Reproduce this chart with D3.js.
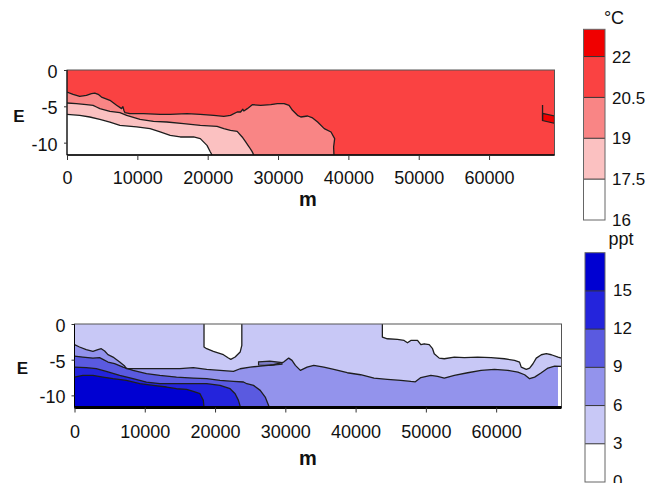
<!DOCTYPE html>
<html><head><meta charset="utf-8">
<script src="https://cdn.jsdelivr.net/npm/d3@7"></script>
<style>
body{margin:0;background:#fff}
svg{display:block}
text{font-family:"Liberation Sans",Arial,Helvetica,sans-serif;fill:#111}
</style>
</head><body>
<svg id="c" width="660" height="483"></svg>
<script>
// ---------------- data ----------------
const xTicks = [0, 10000, 20000, 30000, 40000, 50000, 60000];
const depthTicks = [0, -5, -10];
const xMax = 69300;
const depthMin = -11.7;

const tempLevels = [16, 17.5, 19, 20.5, 22, 23];
const tempLabels = [16, 17.5, 19, 20.5, 22];
const tempColors = ["#ffffff", "#fbc1c1", "#f98585", "#fa4242", "#f00000"];
const tempUnit = "°C";

const salLevels = [0, 3, 6, 9, 12, 15, 18];
const salLabels = [0, 3, 6, 9, 12, 15];
const salColors = ["#ffffff", "#c8c8f6", "#9393ec", "#5a5ae0", "#2424dc", "#0000d2"];
const salUnit = "ppt";

// temperature isolines [distance m, elevation]
const temp205 = [[0,-3.03],[860,-3.35],[1810,-3.62],[2760,-3.49],[3480,-3.26],[3950,-3.17],[4430,-3.35],[4900,-3.72],[6100,-4.17],[7050,-4.86],[7760,-5.32],[7950,-5.05],[8100,-5.6],[8240,-5.87],[8950,-6.01],[10860,-6.01],[13240,-6.1],[14670,-6.1],[17050,-6.01],[18950,-6.1],[20860,-6.24],[22290,-6.38],[23240,-6.24],[24190,-5.78],[24670,-5.78],[25000,-5.4],[25140,-5.65],[25630,-5.32],[26340,-4.77],[27530,-4.86],[28960,-4.77],[29910,-4.63],[30860,-4.63],[31570,-4.86],[32060,-5.55],[32770,-6.24],[33240,-6.47],[34200,-6.33],[34910,-6.6],[35630,-7.16],[36570,-8.07],[37530,-8.53],[38050,-9.45],[37900,-10.6],[37950,-11.7]];
const temp19 = [[0,-4.54],[1330,-4.63],[2760,-4.77],[3710,-4.86],[4190,-5.09],[4670,-5.32],[6100,-5.69],[7520,-5.87],[8480,-6.24],[10380,-6.79],[12290,-7.06],[14190,-7.16],[16570,-7.39],[18950,-7.61],[21330,-7.75],[22290,-8.07],[23240,-8.3],[24190,-8.44],[24900,-9.22],[25400,-9.9],[25900,-10.6],[26300,-11.2],[26550,-11.7]];
const temp175 = [[0,-6.1],[1810,-6.24],[3240,-6.47],[4670,-6.79],[6100,-7.16],[7520,-7.61],[9900,-7.84],[11810,-8.07],[13240,-8.53],[14670,-8.99],[16100,-9.22],[18000,-9.22],[18950,-9.45],[19900,-10.37],[20380,-11.28],[20620,-11.7]];
const temp22 = [[67600,-5.96],[69300,-6.33],[69300,-7.33],[67600,-6.97]];
const temp22Edge = [[67600,-4.81],[67600,-6.97]];

// salinity isolines
const sal6 = [[0,-2.9],[714,-3.22],[1670,-3.6],[2620,-3.83],[3330,-3.6],[3810,-3.46],[4290,-3.79],[4760,-4.3],[5480,-4.63],[6430,-5.33],[7140,-5.89],[7380,-6.26],[8810,-6.26],[12140,-6.26],[15000,-6.26],[16900,-6.12],[18810,-6.36],[20710,-6.5],[22620,-6.64],[23570,-6.27],[25000,-6.04],[26430,-5.9],[28330,-5.71],[29760,-5.34],[30480,-4.78],[30950,-5.1],[31430,-5.8],[32140,-6.5],[33100,-6.04],[34050,-5.8],[35480,-6.04],[36900,-6.36],[38810,-6.83],[40710,-7.11],[42620,-7.58],[44520,-7.76],[46430,-7.9],[47860,-8.05],[48500,-8.1],[49290,-7.5],[50710,-7.2],[51670,-7.34],[52620,-7.58],[54050,-7.2],[55950,-6.83],[57860,-6.5],[59760,-6.36],[61670,-6.5],[63100,-6.74],[64050,-7.11],[64760,-7.67],[65480,-7.44],[66430,-6.83],[67380,-6.17],[68330,-5.9],[69300,-5.94]];
const sal9 = [[0,-4.49],[1190,-4.63],[2620,-4.77],[3570,-4.72],[4050,-4.95],[4760,-5.33],[5710,-5.56],[6900,-6.03],[8330,-6.5],[10240,-6.96],[12140,-7.2],[14520,-7.43],[16900,-7.57],[18810,-7.66],[20710,-7.9],[22620,-8.04],[24050,-8.13],[24520,-8.37],[25480,-8.6],[26430,-9.3],[27140,-10.24],[27620,-11.41],[27700,-11.7]];
const sal12 = [[0,-6.03],[1670,-6.12],[3100,-6.26],[4520,-6.64],[6430,-7.2],[8330,-7.66],[10240,-8.13],[12140,-8.36],[14520,-8.36],[16900,-8.36],[18810,-8.36],[20710,-8.6],[22140,-9.07],[22860,-9.77],[23330,-10.7],[23570,-11.5],[23600,-11.7]];
const sal15 = [[0,-7.43],[1190,-7.2],[2620,-7.2],[4050,-7.43],[5480,-7.66],[7380,-7.9],[9290,-8.36],[11190,-8.6],[13100,-8.83],[14520,-9.07],[15950,-9.16],[16900,-9.44],[17860,-9.77],[18330,-10.7],[18430,-11.7]];
const sal3Left = [[18430,0],[18430,-3.22],[18810,-3.46],[19760,-3.83],[21190,-4.3],[21900,-4.77],[22240,-4.95],[22860,-4.63],[23570,-3.93],[23810,-2.99],[23810,0]];
const sal3Right = [[43810,0],[43810,-1.83],[44520,-2.07],[45950,-2.16],[46900,-2.3],[47380,-2.63],[47860,-2.3],[48810,-2.3],[49290,-2.9],[49760,-2.77],[50480,-2.9],[50950,-3.46],[51190,-4.16],[51900,-4.78],[52620,-4.87],[54050,-4.63],[55480,-4.72],[57380,-4.63],[59290,-4.72],[61190,-4.87],[62620,-5.1],[63330,-5.34],[63570,-6.04],[64290,-6.36],[64760,-6.17],[65240,-5.57],[65710,-4.78],[66430,-4.31],[67140,-4.16],[67860,-4.31],[68810,-4.63],[69300,-4.78]];
const salLens = [[26190,-5.3],[27800,-5.2],[29520,-5.4],[29520,-5.65],[27800,-5.8],[26190,-5.75]];
const salGap = [[68800,-6.0],[69300,-5.94],[69300,-11.7],[68800,-11.7]];

// ---------------- drawing ----------------
const svg = d3.select("#c");
const FONT = '"Liberation Sans",Arial,sans-serif';

function panel(cfg) {
  const x = d3.scaleLinear().domain([0, xMax]).range([cfg.left, cfg.right]);
  const y = d3.scaleLinear().domain([depthMin, 0]).range([cfg.bottom, cfg.top]);
  const line = d3.line().x(d => x(d[0])).y(d => y(d[1]));
  const g = svg.append("g");
  const clipId = "clip" + cfg.id;
  svg.append("clipPath").attr("id", clipId).append("rect")
    .attr("x", cfg.left).attr("y", cfg.top)
    .attr("width", cfg.right - cfg.left).attr("height", cfg.bottom - cfg.top);
  const inner = g.append("g").attr("clip-path", `url(#${clipId})`);
  inner.append("rect").attr("x", cfg.left).attr("y", cfg.top)
    .attr("width", cfg.right - cfg.left).attr("height", cfg.bottom - cfg.top)
    .attr("fill", cfg.background);
  cfg.fills.forEach(f => {
    inner.append("path").attr("d", line(f.pts) + "Z").attr("fill", f.color)
      .attr("stroke", f.stroke ? "#222" : "none").attr("stroke-width", 1.2);
  });
  cfg.lines.forEach(l => {
    inner.append("path").attr("d", line(l)).attr("fill", "none")
      .attr("stroke", "#1e1e1e").attr("stroke-width", 1.3).attr("stroke-linejoin", "round");
  });
  // frame
  g.append("rect").attr("x", cfg.left).attr("y", cfg.top)
    .attr("width", cfg.right - cfg.left).attr("height", cfg.bottom - cfg.top)
    .attr("fill", "none").attr("stroke", "#555").attr("stroke-width", 1);
  // axes
  const ax = g.append("g").attr("transform", `translate(0,${cfg.bottom})`)
    .call(d3.axisBottom(x).tickValues(xTicks).tickFormat(d => String(d)).tickSize(5).tickPadding(cfg.xPad));
  ax.select(".domain").attr("stroke", "#000").attr("stroke-width", cfg.axisWidth).attr("d", `M${cfg.left},0H${cfg.right}`);
  ax.selectAll(".tick line").attr("stroke", "#333");
  ax.selectAll("text").attr("font-size", 18).attr("font-family", FONT).attr("fill", "#111");
  const ay = g.append("g").attr("transform", `translate(${cfg.left},0)`)
    .call(d3.axisLeft(y).tickValues(depthTicks).tickFormat(d => String(d)).tickSize(3).tickPadding(cfg.yPad));
  ay.select(".domain").attr("stroke", "#000").attr("stroke-width", 1).attr("d", `M0,${cfg.top}V${cfg.bottom}`);
  ay.selectAll(".tick line").attr("stroke", "#333");
  ay.selectAll("text").attr("font-size", 18).attr("dy", "0.42em").attr("font-family", FONT).attr("fill", "#111");
  g.append("text").attr("x", cfg.eX).attr("y", cfg.eY).attr("text-anchor", "middle")
    .attr("font-size", 17).attr("font-weight", "bold").text("E");
  g.append("text").attr("x", cfg.mX).attr("y", cfg.mY).attr("text-anchor", "middle")
    .attr("font-size", 20).attr("font-weight", "bold").text("m");
}

function colorbar(cfg) {
  const c = d3.scaleLinear().domain([cfg.levels[0], cfg.levels[cfg.levels.length - 1]]).range([cfg.bottom, cfg.top]);
  const g = svg.append("g");
  cfg.colors.forEach((col, i) => {
    g.append("rect").attr("x", cfg.left).attr("width", cfg.right - cfg.left)
      .attr("y", c(cfg.levels[i + 1])).attr("height", c(cfg.levels[i]) - c(cfg.levels[i + 1]))
      .attr("fill", col);
  });
  cfg.levels.slice(1, -1).forEach(v => {
    g.append("line").attr("x1", cfg.left).attr("x2", cfg.right).attr("y1", c(v)).attr("y2", c(v))
      .attr("stroke", "#333").attr("stroke-width", 1);
  });
  g.append("rect").attr("x", cfg.left).attr("y", c(cfg.levels[cfg.levels.length - 1]))
    .attr("width", cfg.right - cfg.left).attr("height", cfg.bottom - cfg.top)
    .attr("fill", "none").attr("stroke", "#666").attr("stroke-width", 1);
  cfg.labels.forEach(v => {
    g.append("text").attr("x", cfg.labelX).attr("y", c(v) + cfg.labelShift).attr("dy", "0.36em")
      .attr("font-size", 17).text(String(v));
  });
  g.append("text").attr("x", cfg.unitX).attr("y", cfg.unitY).attr("text-anchor", "middle")
    .attr("font-size", 18).text(cfg.unit);
}

panel({
  id: "T", left: 67, right: 554.5, top: 70, bottom: 155, background: tempColors[3],
  fills: [
    { pts: temp205.concat([[0, depthMin]]), color: tempColors[2] },
    { pts: temp19.concat([[0, depthMin]]), color: tempColors[1] },
    { pts: temp175.concat([[0, depthMin]]), color: tempColors[0] },
    { pts: temp22, color: tempColors[4], stroke: true }
  ],
  lines: [temp205, temp19, temp175, temp22Edge],
  axisWidth: 1.6, xPad: 11, yPad: 6.5,
  eX: 19, eY: 122, mX: 308, mY: 206
});

panel({
  id: "S", left: 74.5, right: 561.5, top: 324, bottom: 407.5, background: salColors[1],
  fills: [
    { pts: sal6.concat([[xMax, depthMin], [0, depthMin]]), color: salColors[2] },
    { pts: sal9.concat([[0, depthMin]]), color: salColors[3] },
    { pts: sal12.concat([[0, depthMin]]), color: salColors[4] },
    { pts: sal15.concat([[0, depthMin]]), color: salColors[5] },
    { pts: sal3Left, color: salColors[0] },
    { pts: sal3Right.concat([[xMax, 0]]), color: salColors[0] },
    { pts: salGap, color: salColors[0] },
    { pts: salLens, color: "#7d7dc8", stroke: true }
  ],
  lines: [sal6, sal9, sal12, sal15, sal3Left, sal3Right],
  axisWidth: 3.2, xPad: 12.5, yPad: 6,
  eX: 22.5, eY: 373.5, mX: 308, mY: 465
});

colorbar({
  levels: tempLevels, colors: tempColors, labels: tempLabels, unit: tempUnit,
  left: 583.5, right: 605, top: 29.3, bottom: 220, labelX: 612, labelShift: 0,
  unitX: 614, unitY: 23.5
});
colorbar({
  levels: salLevels, colors: salColors, labels: salLabels, unit: salUnit,
  left: 585, right: 605, top: 252.7, bottom: 482, labelX: 613, labelShift: -1,
  unitX: 621, unitY: 245
});
</script>
</body></html>
